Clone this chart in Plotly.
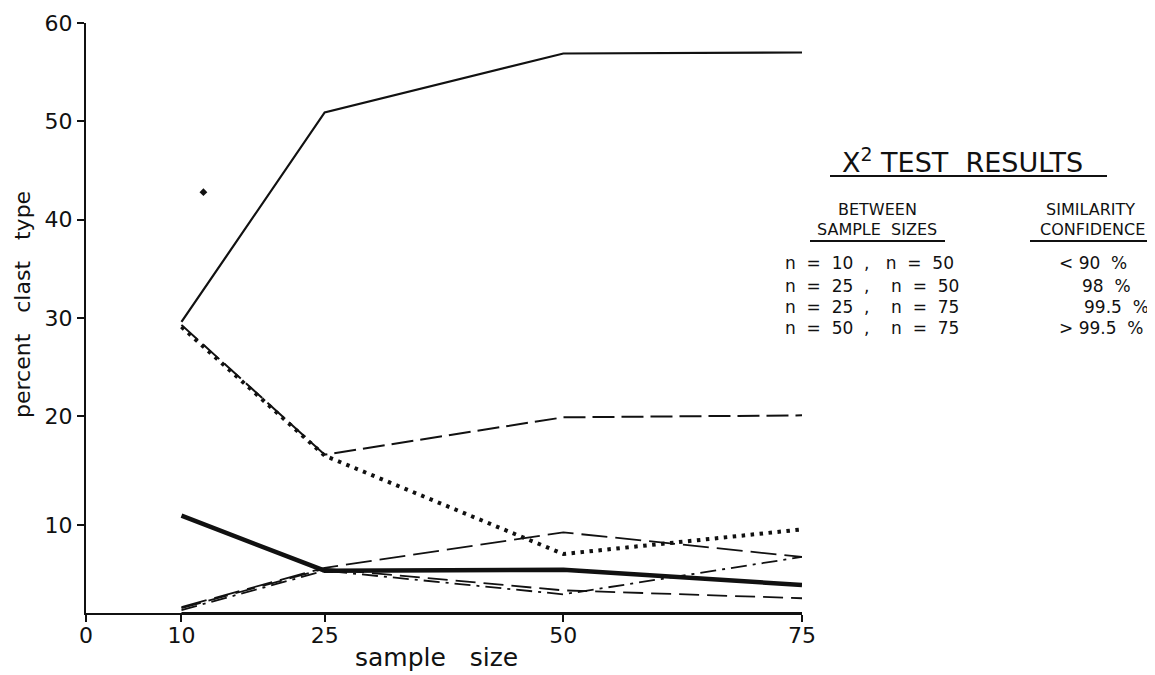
import plotly.graph_objects as go

# ---------------- data ----------------
sample_sizes = [10, 25, 50, 75]

series_solid_top = [29.6, 50.9, 56.9, 57.0]
series_longdash_top = [29.3, 16.1, 19.9, 20.1]
series_dotted = [29.1, 16.0, 6.0, 8.5]
series_thick = [9.9, 4.3, 4.4, 2.85]
series_longdash_low = [0.6, 4.6, 8.2, 5.7]
series_dashdot = [0.3, 4.3, 1.9, 5.7]
series_dashed_low = [0.5, 4.5, 2.3, 1.5]
series_base = [0.0, 0.0, 0.0, 0.0]

stray_x = [12.3]
stray_y = [42.8]

x_tick_values = [0, 10, 25, 50, 75]
x_tick_labels = ["0", "10", "25", "50", "75"]
y_tick_values = [8.9, 20, 30, 40, 50, 60]   # the "10" tick sits low in the original drawing
y_tick_labels = ["10", "20", "30", "40", "50", "60"]

x_title = "sample   size"
y_title = "percent   clast   type"
table_title = "X<sup>2</sup> TEST  RESULTS"
col1_header = ["BETWEEN", "SAMPLE  SIZES"]
col2_header = ["SIMILARITY", "CONFIDENCE"]
table_pairs = [
    "n  =  10  ,   n  =  50",
    "n  =  25  ,    n  =  50",
    "n  =  25  ,    n  =  75",
    "n  =  50  ,    n  =  75",
]
table_conf = ["< 90  %", "98  %", "99.5  %", "> 99.5  %"]

# ---------------- layout geometry ----------------
W, H = 1155, 675
PAGE = 8                        # page body margin around the figure
L, R, T, B = 86, 802, 23, 613   # plot area in screen pixels


def px(xs):
    return (xs - L) / (R - L)


def py(ys):
    return (B - ys) / (B - T)


FONT = "DejaVu Sans"
BLACK = "#111111"

fig = go.Figure()


def add_line(y, width, dash, name):
    fig.add_trace(go.Scatter(
        x=sample_sizes, y=y, mode="lines", name=name,
        line=dict(color=BLACK, width=width, dash=dash),
        showlegend=False, hoverinfo="skip"))


add_line(series_base, 2, "solid", "base")
add_line(series_solid_top, 2.2, "solid", "solid")
add_line(series_longdash_top, 2, "22px,7px", "long dash")
add_line(series_dotted, 4, "3.5px,5.5px", "dotted")
add_line(series_thick, 4.5, "solid", "thick")
add_line(series_longdash_low, 1.8, "26px,8px", "long dash low")
add_line(series_dashdot, 1.8, "16px,6px,3px,6px", "dash dot")
add_line(series_dashed_low, 1.8, "20px,8px", "dashed low")

fig.add_trace(go.Scatter(
    x=stray_x, y=stray_y, mode="markers",
    marker=dict(symbol="diamond", size=6, color=BLACK),
    showlegend=False, hoverinfo="skip"))

annotations = []
shapes = []


def note(text, xs, ys, size, anchor="center", angle=0):
    annotations.append(dict(
        text=text, x=px(xs), y=py(ys), xref="paper", yref="paper",
        showarrow=False, xanchor=anchor, yanchor="middle", textangle=angle,
        font=dict(family=FONT, size=size, color=BLACK)))


def rule(x0, x1, ys):
    shapes.append(dict(type="line", xref="paper", yref="paper",
                       x0=px(x0), x1=px(x1), y0=py(ys), y1=py(ys),
                       line=dict(color=BLACK, width=2)))


# axis titles
note(x_title, 436, 657, 25)
note(y_title, 22, 305, 22, angle=-90)

# chi-square table
note(table_title, 962, 160, 27)
rule(830, 1107, 176)

note(col1_header[0], 877, 209, 16)
note(col1_header[1], 877, 229, 16)
note(col2_header[0], 1090, 209, 16)
note(col2_header[1], 1092, 229, 16)
rule(810, 945, 241)
rule(1030, 1152, 241)

row_y = [263, 286, 307, 328]
conf_x = [1057, 1080, 1082, 1057]
for i, (pair, conf) in enumerate(zip(table_pairs, table_conf)):
    note(pair, 783, row_y[i], 17, "left")
    note(conf, conf_x[i], row_y[i], 17, "left")

fig.update_layout(
    width=W, height=H,
    margin=dict(l=L - PAGE, r=W - (R - PAGE), t=T - PAGE, b=H - (B - PAGE),
                pad=0),
    paper_bgcolor="white", plot_bgcolor="white",
    font=dict(family=FONT, color=BLACK),
    annotations=annotations, shapes=shapes,
    showlegend=False,
    xaxis=dict(
        range=[0, 75], showgrid=False, zeroline=False, automargin=False,
        showline=True, linecolor=BLACK, linewidth=2,
        ticks="outside", ticklen=7, tickwidth=2, tickcolor=BLACK,
        tickvals=x_tick_values, ticktext=x_tick_labels,
        ticklabelstandoff=-5,
        tickfont=dict(family=FONT, size=22, color=BLACK),
    ),
    yaxis=dict(
        range=[0, 60], showgrid=False, zeroline=False, automargin=False,
        showline=True, linecolor=BLACK, linewidth=2,
        ticks="outside", ticklen=7, tickwidth=2, tickcolor=BLACK,
        tickvals=y_tick_values, ticktext=y_tick_labels,
        tickfont=dict(family=FONT, size=22, color=BLACK),
    ),
)

fig.write_html("out.html")
